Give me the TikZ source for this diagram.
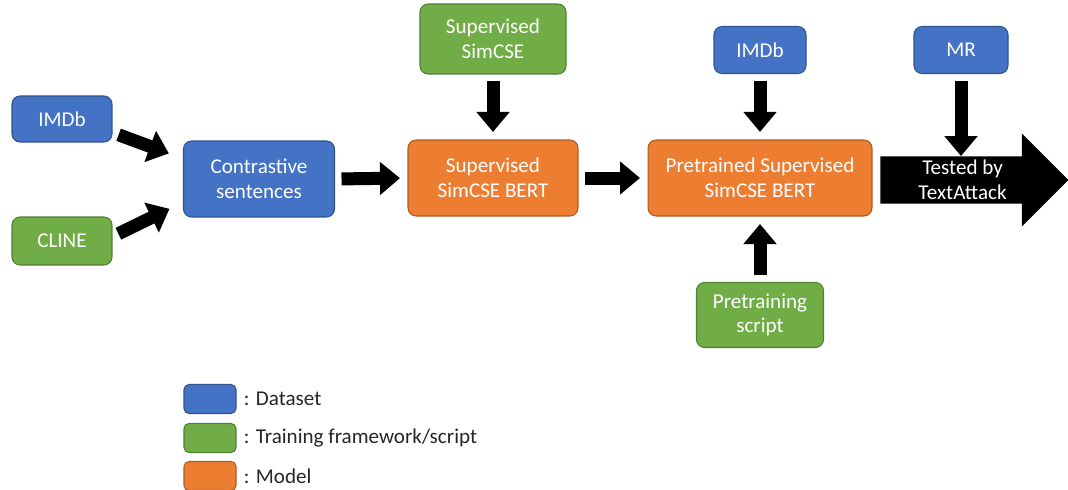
\documentclass[tikz,border=0pt]{standalone}
\usepackage{fontspec}
\setmainfont{Carlito}
\usetikzlibrary{positioning,arrows.meta,shapes.arrows}

\definecolor{dsblue}{HTML}{4472C4}
\definecolor{dsblueD}{HTML}{2F528F}
\definecolor{fwgreen}{HTML}{70AD47}
\definecolor{fwgreenD}{HTML}{507E32}
\definecolor{mdorange}{HTML}{ED7D31}
\definecolor{mdorangeD}{HTML}{AE5A21}

\begin{document}
\begin{tikzpicture}[x=0.02cm,y=-0.02cm,
  box/.style={rounded corners=0.16cm, line width=0.6pt, text=white, align=center, inner sep=1pt,
    font=\fontsize{12}{14}\selectfont},
  data/.style={box, fill=dsblue, draw=dsblueD},
  frame/.style={box, fill=fwgreen, draw=fwgreenD},
  model/.style={box, fill=mdorange, draw=mdorangeD},
  fat/.style={line width=0.26cm, -{Triangle[width=0.64cm,length=0.4cm]},
    shorten <=0.13cm, shorten >=0.15cm},
  legend/.style={text=black!85, inner sep=0pt, font=\fontsize{12}{14}\selectfont}]
\useasboundingbox (0,0) rectangle (1068,490);

% inputs on the left
\node[data, minimum width=2cm, minimum height=0.92cm] (imdbA) at (62,119) {IMDb};
\node[frame, minimum width=2cm, minimum height=0.96cm] (cline) at (62,241) {CLINE};
\node[data, minimum width=3.02cm, minimum height=1.52cm] (contr) at (259,179) {Contrastive\\sentences};

% models
\node[frame, minimum width=2.92cm, minimum height=1.4cm] (ssimcse) at (493,39) {Supervised\\SimCSE};
\node[model, minimum width=3.4cm, minimum height=1.52cm] (sbert) at (493,178) {Supervised\\SimCSE BERT};
\node[model, minimum width=4.48cm, minimum height=1.52cm] (psbert) at (760,178) {Pretrained Supervised\\SimCSE BERT};
\node[data, minimum width=1.84cm, minimum height=0.94cm] (imdbB) at (760,50) {IMDb};
\node[data, minimum width=1.88cm, minimum height=0.94cm] (mr) at (961,50) {MR};
\node[frame, minimum width=2.54cm, minimum height=1.3cm] (pscript) at (760,315) {Pretraining\\script};

% big arrow
\node[single arrow, fill=black, text=white, align=center, anchor=tail,
  font=\fontsize{12}{14}\selectfont, inner ysep=0.07cm, inner xsep=2pt,
  single arrow head extend=0.46cm, minimum height=3.76cm] (tested) at (880,180) {Tested by\\TextAttack};

\draw[fat, shorten >=0.3cm] (imdbA.-15) -- (contr.165);
\draw[fat, shorten >=0.3cm] (cline.5) -- (contr.197);
\draw[fat] (contr.east) -- (sbert.west);
\draw[fat] (ssimcse.south) -- (sbert.north);
\draw[fat] (sbert.east) -- (psbert.west);
\draw[fat] (imdbB.south) -- (psbert.north);
\draw[fat] (pscript.north) -- (psbert.south);
\draw[fat, shorten >=0pt] (mr.south) -- (mr.south |- tested.before head);

% legend
\node[data, rounded corners=0.1cm, minimum width=1.04cm, minimum height=0.58cm] (lgdata) at (210,399) {};
\node[frame, rounded corners=0.1cm, minimum width=1.04cm, minimum height=0.58cm] (lgframe) at (210,438) {};
\node[model, rounded corners=0.1cm, minimum width=1.04cm, minimum height=0.58cm] (lgmodel) at (210,476) {};
\node[legend, right=0.14cm of lgdata] (txdata) {: Dataset};
\node[legend, right=0.14cm of lgframe] (txframe) {: Training framework/script};
\node[legend, right=0.14cm of lgmodel] (txmodel) {: Model};
\end{tikzpicture}
\end{document}
